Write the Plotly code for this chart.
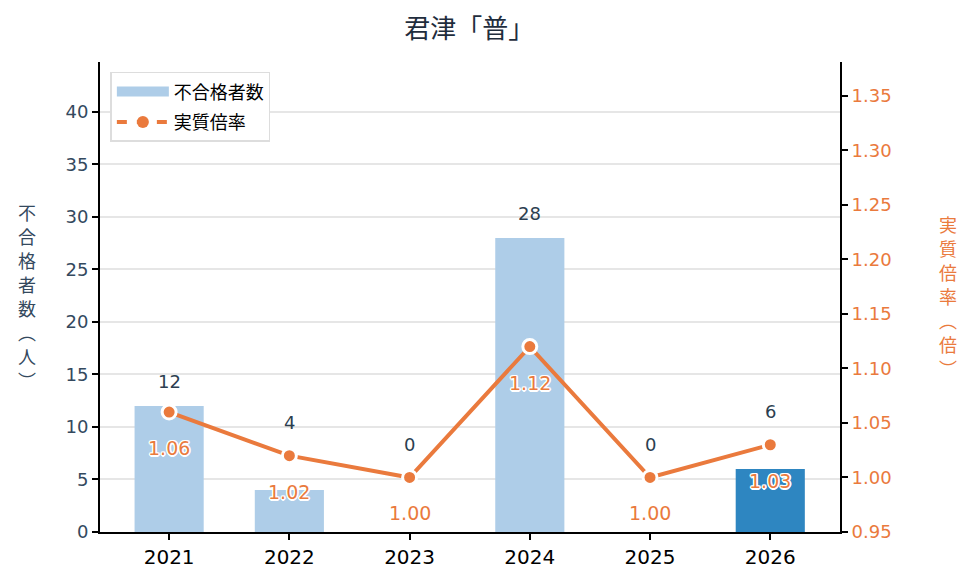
import plotly.graph_objects as go

years = ["2021", "2022", "2023", "2024", "2025", "2026"]
failures = [12, 4, 0, 28, 0, 6]
rates = [1.06, 1.02, 1.00, 1.12, 1.00, 1.03]

bar_name = "不合格者数"
line_name = "実質倍率"
left_title = "不合格者数︵人︶"
right_title = "実質倍率︵倍︶"
chart_title = "君津「普」"

YMAX = 44.75
Y2MIN, Y2MAX = 0.95, 1.381

CJK = "Noto Sans CJK JP"
NUM = "DejaVu Sans, Noto Sans CJK JP"
ORANGE = "#ea7a3d"
LIGHT = "#aecde8"
DARK = "#2e86c1"
TXT = "#34495e"

bar_colors = [LIGHT] * (len(years) - 1) + [DARK]

fig = go.Figure()
fig.add_trace(go.Bar(
    x=years, y=failures, name=bar_name, marker=dict(color=bar_colors, line=dict(width=0)),
    width=0.575, yaxis="y", showlegend=False,
))
fig.add_trace(go.Scatter(
    x=years, y=rates, name=line_name, mode="lines+markers", yaxis="y2", showlegend=False,
    line=dict(color=ORANGE, width=4),
    marker=dict(size=14, color=ORANGE, line=dict(color="white", width=3)),
))
# legend-only entries (no data drawn)
fig.add_trace(go.Scatter(x=[None], y=[None], name=bar_name, mode="lines", legendgroup="a",
                         line=dict(color=LIGHT, width=14)))
fig.add_trace(go.Scatter(x=[None], y=[None], name=line_name, mode="lines+markers", legendgroup="b",
                         line=dict(color=ORANGE, width=4, dash="10px,10px"),
                         marker=dict(size=12, color=ORANGE)))

annotations = []
shadow = ("white 1px 1px 0, white -1px -1px 0, white 1px -1px 0, white -1px 1px 0, "
          "white 0 1.5px 0, white 0 -1.5px 0, white 1.5px 0 0, white -1.5px 0 0")
for i, (yr, f, r) in enumerate(zip(years, failures, rates)):
    r_in_y = (r - Y2MIN) / (Y2MAX - Y2MIN) * YMAX
    if f >= r_in_y:
        annotations.append(dict(x=i, y=f, xref="x", yref="y", text=str(f), showarrow=False,
                                yshift=24, font=dict(family=NUM, size=18, color="#2c3e50")))
    else:
        annotations.append(dict(x=i, y=r, xref="x", yref="y2", text=str(f), showarrow=False,
                                yshift=33, font=dict(family=NUM, size=18, color="#2c3e50")))
    annotations.append(dict(x=i, y=r, xref="x", yref="y2", text=f"{r:.2f}", showarrow=False,
                            yshift=-36, font=dict(family=NUM, size=19, color=ORANGE, shadow=shadow)))

for k, ch in enumerate(left_title):
    annotations.append(dict(x=-0.0986, y=1, xref="paper", yref="paper", xanchor="center", yanchor="middle",
                            text=ch, showarrow=False, yshift=-150 - 24 * k,
                            font=dict(family=CJK, size=18, color=TXT)))
for k, ch in enumerate(right_title):
    annotations.append(dict(x=1.146, y=1, xref="paper", yref="paper", xanchor="center", yanchor="middle",
                            text=ch, showarrow=False, yshift=-162 - 24 * k,
                            font=dict(family=CJK, size=18, color=ORANGE)))

fig.update_layout(
    width=975, height=584,
    margin=dict(l=92, r=143, t=54, b=60),
    paper_bgcolor="white", plot_bgcolor="white",
    font=dict(family=NUM, color=TXT),
    title=dict(text=chart_title, x=0.473, xanchor="center", y=0.965, yanchor="middle",
               font=dict(family=CJK, size=26, color="#1f2d3d")),
    xaxis=dict(type="category", range=[-0.575, 5.58], showline=True, linecolor="black", linewidth=2,
               ticks="outside", tickcolor="black", ticklen=6, tickwidth=2,
               tickfont=dict(family=NUM, size=20, color="black"), showgrid=False),
    yaxis=dict(range=[0, YMAX], tickvals=[0, 5, 10, 15, 20, 25, 30, 35, 40], showline=True,
               linecolor="black", linewidth=2, ticks="outside", tickcolor="black", ticklen=6, tickwidth=2,
               gridcolor="#e6e6e6", gridwidth=1.5, zeroline=False,
               tickfont=dict(family=NUM, size=18, color=TXT)),
    yaxis2=dict(range=[Y2MIN, Y2MAX], overlaying="y", side="right",
                tickvals=[0.95, 1.00, 1.05, 1.10, 1.15, 1.20, 1.25, 1.30, 1.35], tickformat=".2f",
                showline=True, linecolor="black", linewidth=2, ticks="outside", tickcolor="black",
                ticklen=6, tickwidth=2, showgrid=False, zeroline=False,
                tickfont=dict(family=NUM, size=18, color=ORANGE)),
    legend=dict(x=0.014, y=0.979, xanchor="left", yanchor="top", bgcolor="white",
                bordercolor="#dddddd", borderwidth=1.5, font=dict(family=CJK, size=18, color="black"),
                tracegroupgap=4, itemwidth=52),
    annotations=annotations,
)

fig.write_html("out.html")
